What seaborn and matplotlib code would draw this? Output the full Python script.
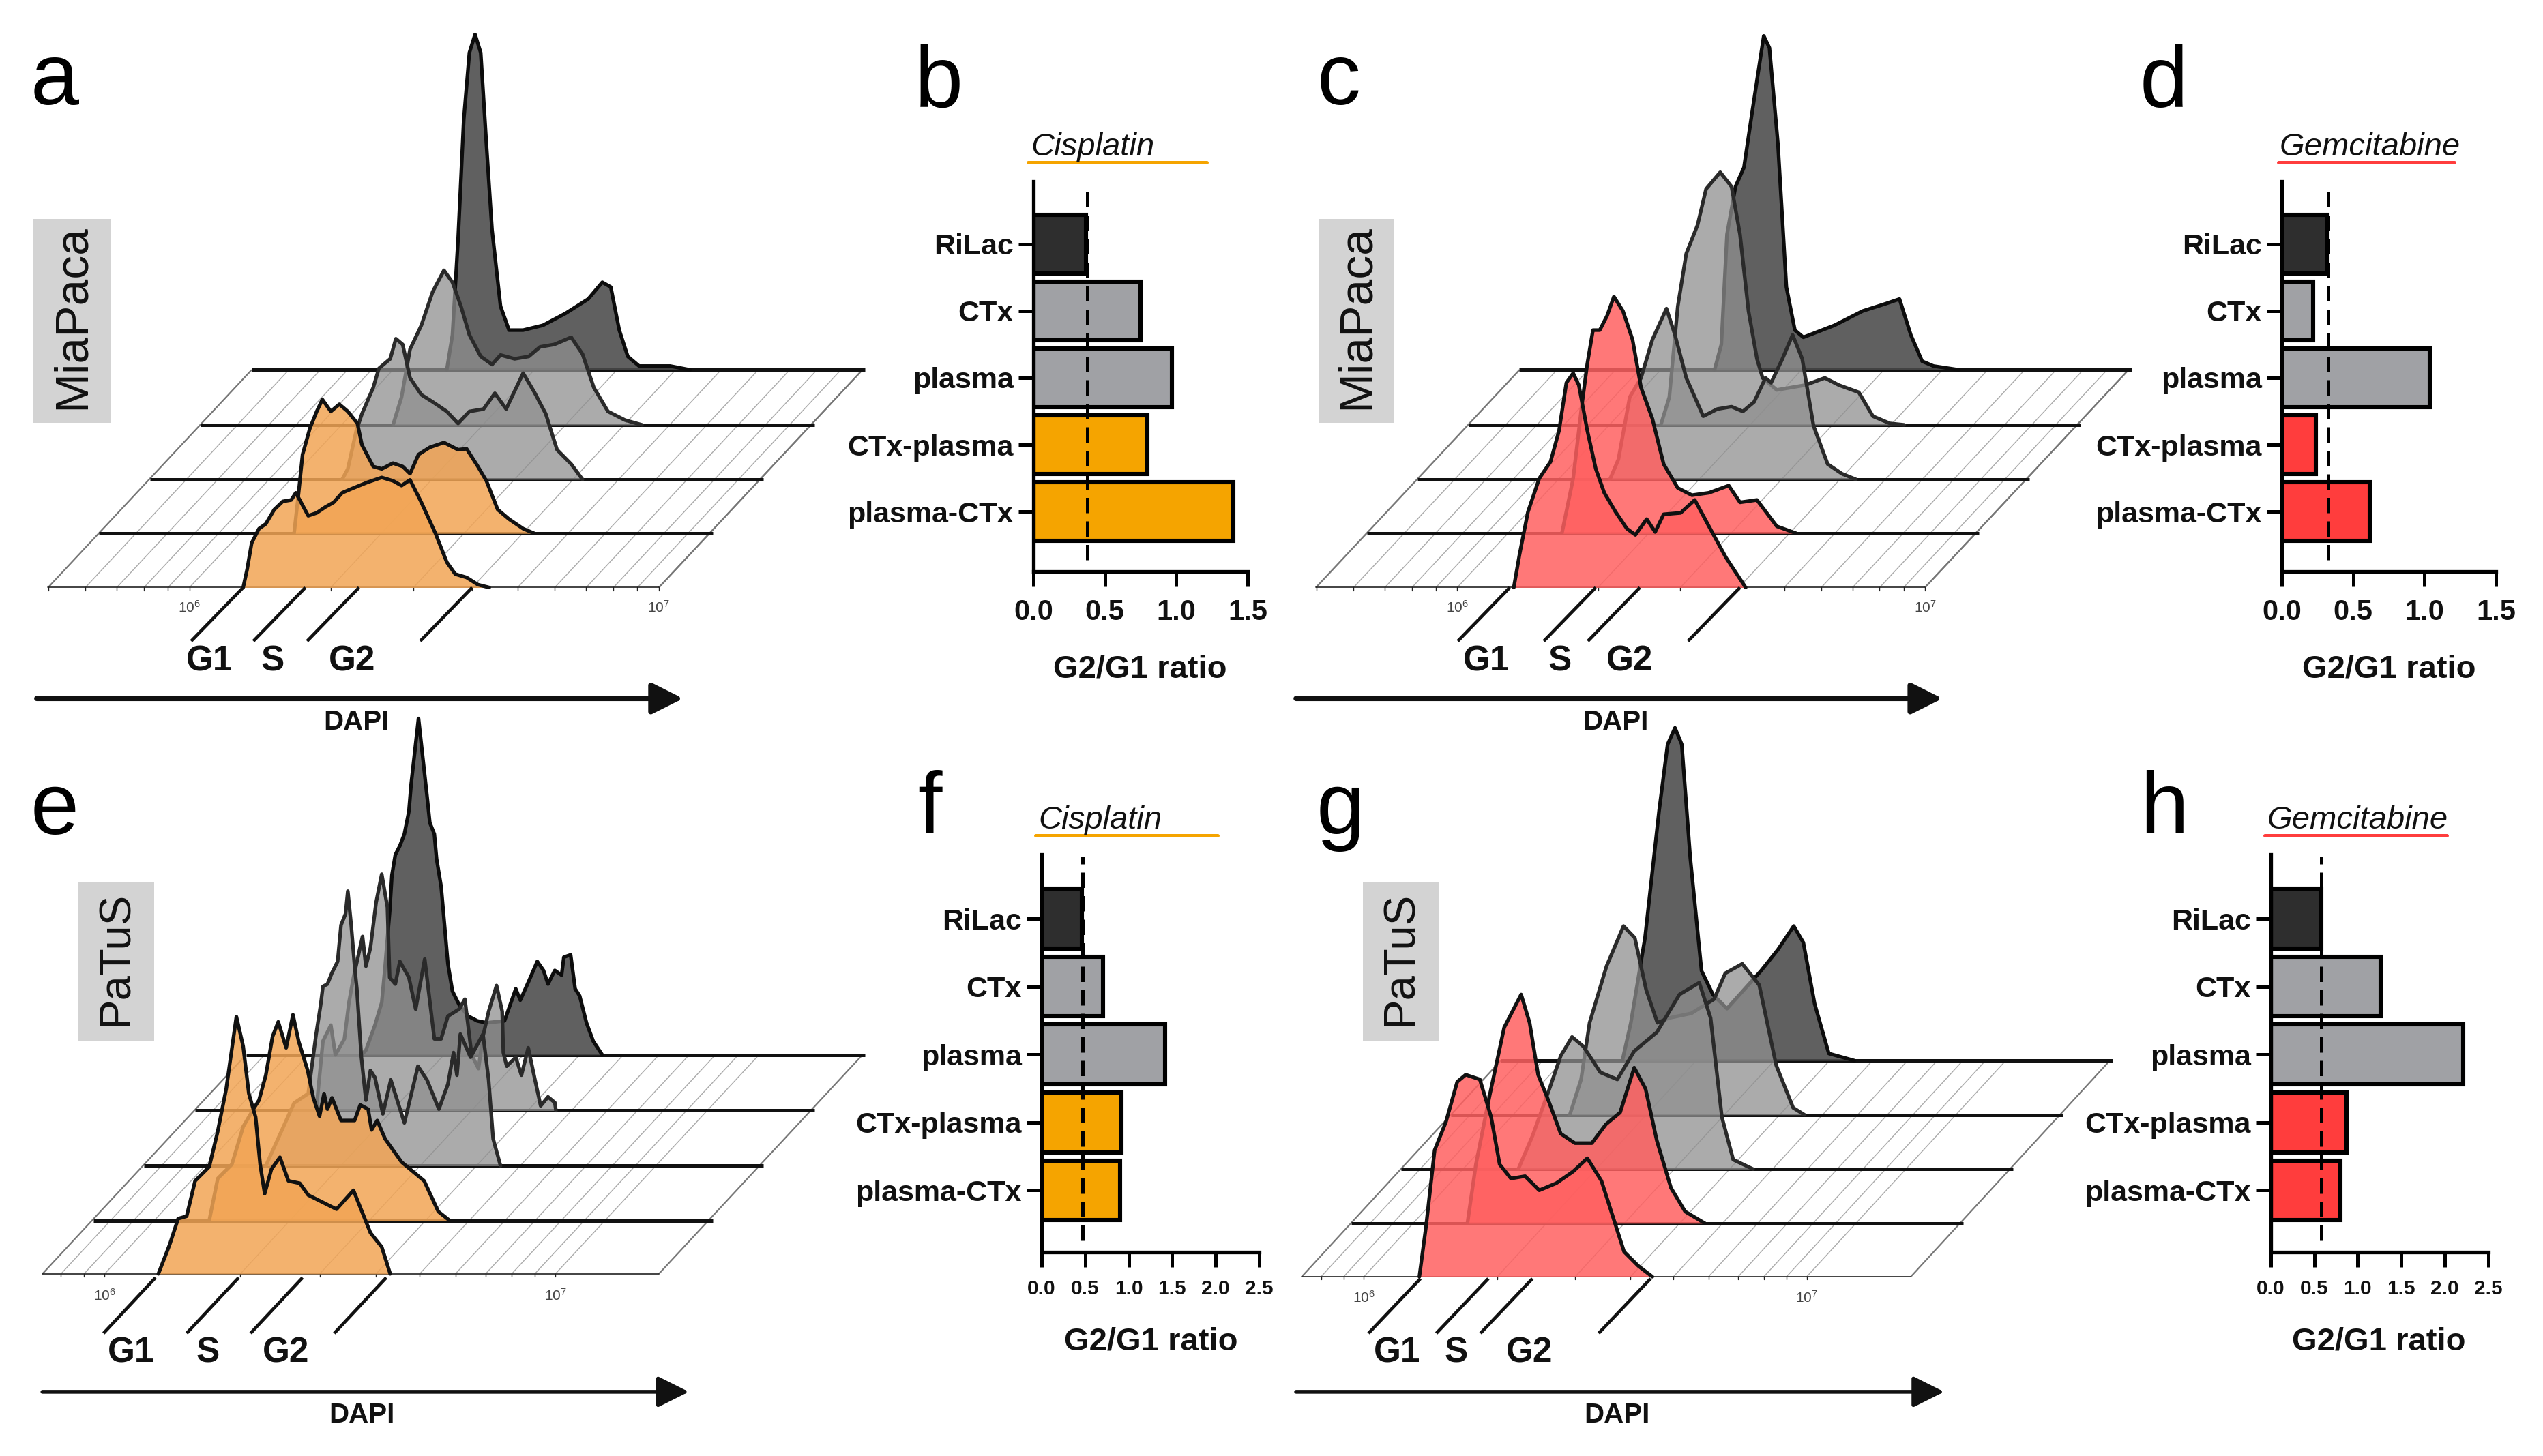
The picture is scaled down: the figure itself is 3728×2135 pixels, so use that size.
import numpy as np
import matplotlib
matplotlib.use("Agg")
import matplotlib.pyplot as plt
import seaborn as sns

# ---------- bar data ----------
categories = ["RiLac", "CTx", "plasma", "CTx-plasma", "plasma-CTx"]
b_values = [0.37, 0.75, 0.97, 0.80, 1.40]
d_values = [0.32, 0.22, 1.035, 0.24, 0.615]
f_values = [0.46, 0.705, 1.417, 0.92, 0.90]
h_values = [0.58, 1.26, 2.21, 0.875, 0.80]
b_ref, d_ref, f_ref, h_ref = 0.376, 0.326, 0.468, 0.58
ticks_short = [0.0, 0.5, 1.0, 1.5]
ticks_long = [0.0, 0.5, 1.0, 1.5, 2.0, 2.5]

# ---------- histogram data (DAPI position along the axis, cell count) ----------
a0_x = [345,352,360,373,385,400,415,430,438,445,460,475,490,505,520,540,565,590,610,625,640,660,685,705,720,740,760,780]
a0_y = [0,38,93,123,133,163,180,183,198,183,150,156,168,178,198,208,220,230,223,213,225,178,113,53,28,21,6,0]
a1_x = [345,353,360,373,385,395,410,425,440,457,465,485,500,520,537,550,565,585,610,635,650,670,685,705,725,750,770]
a1_y = [0,85,165,220,255,280,255,270,255,230,185,140,135,147,140,125,165,180,190,175,177,140,110,50,30,10,0]
a2_x = [340,350,365,375,395,405,425,435,447,460,480,500,525,545,565,590,610,630,660,680,700,720,745,765]
a2_y = [0,22,102,137,192,232,252,294,282,212,177,162,142,117,142,147,180,147,222,182,137,62,32,0]
a3_x = [340,355,370,390,410,430,445,460,475,495,515,530,555,580,600,625,655,675,695,720,750,780]
a3_y = [0,58,158,208,278,323,298,248,188,143,126,146,138,143,163,168,183,148,78,28,10,0]
a4_x = [345,355,365,375,385,395,405,415,425,440,455,480,515,555,595,620,635,650,665,685,740,775]
a4_y = [0,73,273,523,663,701,663,473,293,133,83,83,93,118,148,183,173,83,28,8,8,0]

c0_x = [350,360,375,395,415,430,443,455,465,480,495,510,530,550,565,585,600,615,645,670,695,725,760]
c0_y = [0,68,158,228,263,328,428,448,423,328,248,198,158,123,110,143,116,153,156,183,128,63,0]
c1_x = [345,365,380,390,400,412,425,437,453,470,485,505,525,550,575,605,640,660,690,725,760]
c1_y = [0,115,265,355,425,425,455,495,465,405,305,240,145,95,80,85,100,65,70,15,0]
c2_x = [340,355,375,395,415,440,455,475,505,530,555,575,595,615,625,645,663,680,700,725,750,775]
c2_y = [0,42,172,212,292,357,302,212,132,147,152,142,162,212,202,252,302,252,112,32,12,0]
c3_x = [340,355,370,385,405,420,445,465,480,495,510,520,545,595,630,655,690,715,745,770]
c3_y = [0,58,248,358,418,493,528,498,398,238,138,98,73,83,98,83,68,18,3,0]
c4_x = [345,357,367,382,397,412,432,442,457,472,487,502,557,607,647,672,692,712,732,777]
c4_y = [0,53,283,383,423,543,698,673,473,173,83,68,93,123,138,148,73,18,8,0]

e0_x = [205,225,240,255,270,295,310,325,343,355,365,377,385,393,405,420,435,455,470,495,520,550,565,580,600,615]
e0_y = [0,62,117,122,197,227,302,392,545,482,382,332,232,170,222,247,197,192,167,152,137,177,132,87,57,0]
e1_x = [205,220,245,265,285,293,305,317,327,341,353,363,379,389,400,408,414,422,438,462,472,486,492,502,516,545,585,610,630]
e1_y = [0,89,119,199,240,255,308,390,421,366,436,380,318,260,221,269,236,260,212,212,245,236,192,212,173,124,84,19,0]
e2_x = [215,235,265,290,304,312,316,324,332,342,348,356,360,366,372,376,384,392,400,408,422,436,460,484,500,521,537,547,553,559,577,599,609,617,630]
e2_y = [0,53,133,153,279,341,380,385,409,433,510,534,582,510,423,375,230,139,202,187,110,182,91,211,182,120,173,240,192,279,230,279,182,57,0]
e3_x = [214,226,240,248,264,272,280,296,302,310,320,330,340,344,354,362,378,390,406,423,435,447,467,477,489,501,509,519,533,543,545,551,567,577,589,601,611,624,636,638]
e3_y = [0,147,181,118,152,229,282,369,306,345,441,501,431,282,268,316,282,215,321,152,152,200,215,236,118,89,157,210,265,210,123,94,113,75,133,65,10,29,17,0]
e4_x = [204,212,228,240,246,254,258,264,272,280,288,292,305,320,325,333,337,345,351,357,365,377,393,409,425,457,477,485,501,515,526,534,546,558,562,574,582,590,602,614,630]
e4_y = [0,10,63,111,188,304,381,424,443,468,516,574,713,549,492,468,415,357,275,193,135,106,82,72,68,72,140,116,159,198,179,150,179,169,207,212,140,125,68,29,0]

g0_x = [208,220,235,255,275,290,315,335,350,370,395,420,450,480,505,530,550,570,595,620]
g0_y = [0,108,268,328,413,428,418,338,238,208,213,183,198,223,251,203,128,53,23,0]
g1_x = [205,220,245,270,285,300,315,330,350,370,395,425,450,475,500,520,540,565,590,625]
g1_y = [0,125,275,415,450,485,425,315,255,190,170,170,210,235,330,285,175,75,25,0]
g2_x = [207,232,262,282,302,322,352,382,412,452,492,527,547,567,587,622]
g2_y = [0,70,170,240,280,260,205,190,250,290,370,395,320,110,20,0]
g3_x = [210,230,245,275,305,325,345,365,385,425,465,485,515,545,575,605,625]
g3_y = [0,75,195,315,400,375,265,195,205,215,245,300,320,275,105,15,0]
g4_x = [215,230,255,280,295,308,320,335,355,375,400,460,490,518,535,555,580,625]
g4_y = [0,80,260,530,670,705,670,430,190,140,110,190,235,285,250,120,15,0]

gates_a = [345, 455, 550, 750]
gates_c = [343, 495, 573, 750]
gates_e = [200, 347, 460, 608]
gates_g = [210, 330, 408, 617]
minor_a = [5e5,6e5,7e5,8e5,9e5,1e6,2e6,3e6,4e6,5e6,6e6,7e6,8e6,9e6,1e7]
minor_e = [8e5,9e5,1e6,2e6,3e6,4e6,5e6,6e6,7e6,8e6,9e6,1e7]
gate_names = ["G1", "S", "G2"]

# ---------- colours ----------
DARK, GREY, ORANGE, RED = "#2e2e2e", "#a0a1a5", "#f5a400", "#ff3d3d"
RIDGE_ORANGE, RIDGE_RED = "#f2a555", "#ff6060"
W, H = 3728, 2135

sns.set_theme(style="white")
plt.rcParams["font.family"] = ["Liberation Sans", "DejaVu Sans"]
plt.rcParams["mathtext.default"] = "regular"
fig = plt.figure(figsize=(W / 100, H / 100), dpi=100, facecolor="white")


def px_axes(x0, y0, w, h, **kw):
    return fig.add_axes([x0 / W, 1 - (y0 + h) / H, w / W, h / H], **kw)


def ridge_panel(box, left, base, layers, fills, dy, dx, origin, decade, right, minor,
                gates, gate_drop, text_x, text_y, arrow, arrow_lw, dapi, lab_y, lab_x):
    ax = px_axes(*box, zorder=1)
    ax.patch.set_alpha(0)
    ax.axis("off")
    # floor
    tick_pos = [origin + decade * np.log10(v / 1e6) for v in minor]
    ends = tick_pos + [0, right]
    for p in ends:
        edge = p in (0, right)
        ax.plot([p, p + 4 * dx], [0, dy[4]], color="#777777" if edge else "#aaaaaa",
                lw=1.6 if edge else 1.0, zorder=1, solid_capstyle="butt")
    for p in tick_pos:
        ax.plot([p, p], [0, -6], color="#222222", lw=1.0, zorder=1)
    for i in (4, 3, 2, 1, 0):
        x = np.array(layers[i][0], float) + i * dx
        y = np.array(layers[i][1], float) + dy[i]
        z = 10 + (4 - i) * 3
        fc, al, lc = fills[i]
        if i > 0:
            ax.plot([i * dx, i * dx + right + 5], [dy[i], dy[i]], color="#111111", lw=3.6,
                    zorder=z, solid_capstyle="butt")
        else:
            ax.plot([0, right], [0, 0], color="#222222", lw=1.2, zorder=z)
        ax.fill_between(x, dy[i], y, color=fc, alpha=al, lw=0, zorder=z + 1)
        sns.lineplot(x=x, y=y, sort=False, estimator=None, color=lc, lw=3.8, ax=ax,
                     zorder=z + 2, legend=False)
    for g in gates:
        ax.plot([g, g - 92], [gate_drop[0], gate_drop[1]], color="#111111", lw=3.4,
                solid_capstyle="butt", clip_on=False, zorder=40)
    for nm, tx in zip(gate_names, text_x):
        ax.text(tx, text_y, nm, ha="center", va="center", fontsize=37, fontweight="bold",
                color="#111111", zorder=40)
    ax.annotate("", xy=(arrow[1], arrow[2]), xytext=(arrow[0], arrow[2]), annotation_clip=False,
                arrowprops=dict(arrowstyle="-|>,head_length=0.40,head_width=0.20", mutation_scale=70,
                                lw=arrow_lw, color="#111111", shrinkA=0, shrinkB=0))
    ax.text(dapi[0], dapi[1], "DAPI", ha="center", va="center", fontsize=29, fontweight="bold", color="#111111")
    ax.text(lab_x[0], lab_y, "$10^{6}$", ha="center", va="center", fontsize=15, color="#444444")
    ax.text(lab_x[1], lab_y, "$10^{7}$", ha="center", va="center", fontsize=15, color="#444444")
    ax.set_xlim(-left, 1568 - left)
    ax.set_ylim(base - 1568, base)
    ax.set_xlabel("")
    ax.set_ylabel("")
    return ax


dark = ("#4a4a4a", 0.88, "#0c0c0c")
grey3 = ("#8f8f8f", 0.75, "#2a2a2a")
orange = (RIDGE_ORANGE, 0.85, "#111111")
red = (RIDGE_RED, 0.85, "#111111")
fills_o = [orange, orange, grey3, grey3, dark]
fills_r = [red, red, grey3, grey3, dark]

ridge_panel((0, 0, 1300, 1100), 85, 1228,
            [(a0_x, a0_y), (a1_x, a1_y), (a2_x, a2_y), (a3_x, a3_y), (a4_x, a4_y)], fills_o,
            [0, 113, 226, 340, 455], 90, 250, 830, 1080, minor_a, gates_a, (0, -112),
            [285, 397, 537], -154, (-20, 1123, -232), 5.5, (545, -282), -42, (250, 1080))
ridge_panel((1900, 0, 1300, 1100), 35, 1228,
            [(c0_x, c0_y), (c1_x, c1_y), (c2_x, c2_y), (c3_x, c3_y), (c4_x, c4_y)], fills_r,
            [0, 113, 226, 340, 455], 90, 250, 827, 1077, minor_a, gates_c, (0, -112),
            [302, 431, 555], -154, (-35, 1108, -232), 5.5, (530, -282), -42, (250, 1077))
ridge_panel((0, 1050, 1300, 1085), 75, 1182,
            [(e0_x, e0_y), (e1_x, e1_y), (e2_x, e2_y), (e3_x, e3_y), (e4_x, e4_y)], fills_o,
            [0, 113, 229, 346, 464], 90, 110, 797, 1090, minor_e, gates_e, (-8, -126),
            [157, 292, 430], -168, (0, 1143, -250), 4.0, (565, -300), -46, (110, 907))
ridge_panel((1900, 1050, 1300, 1085), 10, 1188,
            [(g0_x, g0_y), (g1_x, g1_y), (g2_x, g2_y), (g3_x, g3_y), (g4_x, g4_y)], fills_r,
            [0, 113, 228, 343, 458], 88, 110, 783, 1077, minor_e, gates_g, (-4, -120),
            [168, 273, 402], -162, (-10, 1136, -244), 4.0, (557, -294), -44, (110, 893))


def bar_panel(box, values, ref, accent, xmax, xticks, ylim, tick_fs, title, title_x, title_base,
              line, line_y, label_xy):
    x0, y0, w, h = box
    ax = px_axes(x0, y0, w, h, zorder=5)
    ax.patch.set_alpha(0)
    sns.barplot(x=values, y=categories, hue=categories, order=categories, hue_order=categories,
                palette=[DARK, GREY, GREY, accent, accent], width=0.88, dodge=False, legend=False,
                saturation=1, edgecolor="black", linewidth=4.4, ax=ax, zorder=2)
    ax.axvline(ref, ymin=0.03, ymax=0.995, color="black", lw=3.6, dashes=(4.5, 2.4), zorder=6)
    ax.set_xlim(0, xmax)
    ax.set_ylim(*ylim)
    ax.set_xticks(xticks)
    ax.set_xticklabels([f"{t:.1f}" for t in xticks], fontsize=tick_fs, fontweight="bold", color="#111111")
    ax.tick_params(axis="x", length=16, width=3.6, color="black", pad=13, bottom=True)
    ax.tick_params(axis="y", length=16, width=3.6, color="black", pad=5, left=True)
    for lb in ax.get_yticklabels():
        lb.set_fontsize(31)
        lb.set_fontweight("bold")
        lb.set_color("#111111")
    sns.despine(ax=ax)
    for s in ("left", "bottom"):
        ax.spines[s].set_linewidth(3.8)
        ax.spines[s].set_color("black")
        ax.spines[s].set_zorder(7)
    ax.set_ylabel("")
    ax.set_xlabel("G2/G1 ratio", fontsize=34, fontweight="bold", color="#111111")
    ax.xaxis.set_label_coords((label_xy[0] - x0) / w, (y0 + h - label_xy[1]) / h)
    ax.xaxis.label.set_verticalalignment("center")
    fig.text(title_x / W, 1 - title_base / H, title, fontsize=34, style="italic", color="#111111",
             ha="left", va="baseline")
    fig.add_artist(plt.Line2D([line[0] / W, line[1] / W], [1 - line_y / H] * 2, color=accent, lw=3.6))
    return ax


top_ylim = (4.895, -0.93)
low_ylim = (4.91, -0.945)
bar_panel((1515, 266.5, 314, 571.5), b_values, b_ref, ORANGE, 1.5, ticks_short, top_ylim, 30,
          "Cisplatin", 1511, 228, (1507, 1769), 238, (1671, 982))
bar_panel((3345, 266.5, 314, 571.5), d_values, d_ref, RED, 1.5, ticks_short, top_ylim, 30,
          "Gemcitabine", 3342, 228, (3340, 3598), 238, (3502, 982))
bar_panel((1527, 1253, 319, 583), f_values, f_ref, ORANGE, 2.5, ticks_long, low_ylim, 21.5,
          "Cisplatin", 1522, 1215, (1518, 1785), 1225, (1687, 1967))
bar_panel((3329, 1253, 318.5, 583), h_values, h_ref, RED, 2.5, ticks_long, low_ylim, 21.5,
          "Gemcitabine", 3324, 1215, (3320, 3587), 1225, (3487, 1967))

# panel letters
letters = [("a", 45, 153), ("b", 1341, 157), ("c", 1931, 153), ("d", 3137, 157),
           ("e", 45, 1223), ("f", 1345, 1222), ("g", 1930, 1222), ("h", 3137, 1222)]
for s, x, y in letters:
    fig.text(x / W, 1 - y / H, s, fontsize=92, color="black", ha="left", va="baseline", zorder=30)

# cell-line tags
tags = [("MiaPaca", 48, 321, 115, 299, 50, 6), ("MiaPaca", 1933, 321, 111, 299, 50, 6),
        ("PaTuS", 114, 1294, 112, 233, 47, 5), ("PaTuS", 1998, 1294, 111, 233, 47, 5)]
for s, x, y, w, h, fs, up in tags:
    fig.patches.append(plt.Rectangle((x / W, 1 - (y + h) / H), w / W, h / H, transform=fig.transFigure,
                                     facecolor="#d3d3d3", edgecolor="none", zorder=0))
    fig.text((x + w / 2) / W, 1 - (y + h / 2 - up) / H, s, rotation=90, fontsize=fs, color="#111111",
             ha="center", va="center", zorder=30)

fig.savefig("out.png", dpi=100)
